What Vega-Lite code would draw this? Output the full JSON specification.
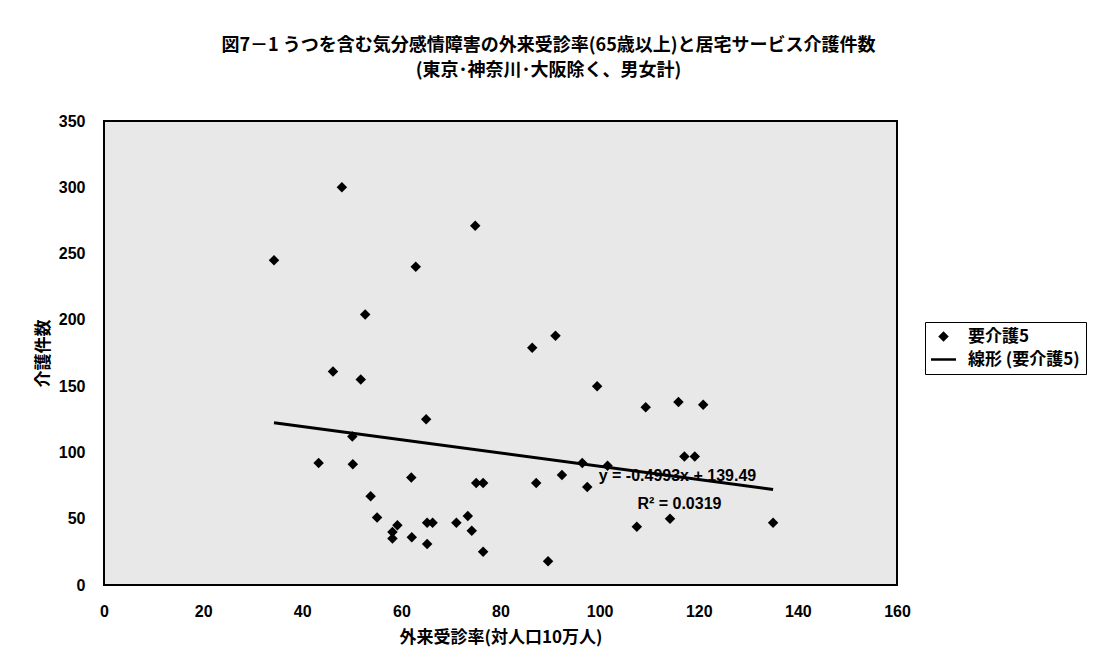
{
  "$schema": "https://vega.github.io/schema/vega-lite/v6.json",
  "width": 793,
  "height": 464,
  "autosize": {"type": "none"},
  "padding": {"left": 104, "top": 121, "right": 196, "bottom": 75},
  "background": "white",
  "config": {
    "font": "Liberation Sans, Noto Sans CJK JP",
    "view": {"stroke": "black", "strokeWidth": 2, "fill": "#e8e8e8"},
    "axis": {
      "domain": false,
      "ticks": false,
      "grid": false,
      "labelFont": "Liberation Sans",
      "labelFontSize": 16,
      "labelFontWeight": "bold",
      "labelColor": "black",
      "labelFlush": false,
      "labelOverlap": false,
      "titleFont": "Noto Sans CJK JP",
      "titleFontSize": 17,
      "titleFontWeight": "bold",
      "titleColor": "black"
    },
    "legend": {
      "orient": "none",
      "legendX": 821,
      "legendY": 201,
      "strokeColor": "black",
      "strokeWidth": 1,
      "fillColor": "white",
      "padding": 6,
      "rowPadding": 2,
      "labelFont": "Noto Sans CJK JP",
      "labelFontSize": 17,
      "labelFontWeight": "bold",
      "labelColor": "black",
      "labelOffset": 12,
      "labelLimit": 300,
      "symbolFillColor": "black",
      "symbolStrokeWidth": 0
    }
  },
  "title": {
    "text": [
      "図7－1 うつを含む気分感情障害の外来受診率(65歳以上)と居宅サービス介護件数",
      "(東京･神奈川･大阪除く、男女計)"
    ],
    "font": "Noto Sans CJK JP",
    "fontSize": 18,
    "fontWeight": "bold",
    "color": "black",
    "anchor": "middle",
    "frame": "group",
    "dx": 48,
    "offset": 33,
    "lineHeight": 25
  },
  "datasets": {
    "prefectures": [
      {"rate": 34.3, "count": 245, "series": "要介護5"},
      {"rate": 43.3, "count": 92, "series": "要介護5"},
      {"rate": 46.2, "count": 161, "series": "要介護5"},
      {"rate": 48.0, "count": 300, "series": "要介護5"},
      {"rate": 50.1, "count": 112, "series": "要介護5"},
      {"rate": 50.2, "count": 91, "series": "要介護5"},
      {"rate": 51.8, "count": 155, "series": "要介護5"},
      {"rate": 52.7, "count": 204, "series": "要介護5"},
      {"rate": 53.8, "count": 67, "series": "要介護5"},
      {"rate": 55.1, "count": 51, "series": "要介護5"},
      {"rate": 58.2, "count": 40, "series": "要介護5"},
      {"rate": 58.2, "count": 35, "series": "要介護5"},
      {"rate": 59.2, "count": 45, "series": "要介護5"},
      {"rate": 62.0, "count": 81, "series": "要介護5"},
      {"rate": 62.1, "count": 36, "series": "要介護5"},
      {"rate": 62.9, "count": 240, "series": "要介護5"},
      {"rate": 65.0, "count": 125, "series": "要介護5"},
      {"rate": 65.2, "count": 47, "series": "要介護5"},
      {"rate": 66.3, "count": 47, "series": "要介護5"},
      {"rate": 65.2, "count": 31, "series": "要介護5"},
      {"rate": 71.1, "count": 47, "series": "要介護5"},
      {"rate": 73.4, "count": 52, "series": "要介護5"},
      {"rate": 74.2, "count": 41, "series": "要介護5"},
      {"rate": 74.9, "count": 271, "series": "要介護5"},
      {"rate": 75.1, "count": 77, "series": "要介護5"},
      {"rate": 76.5, "count": 77, "series": "要介護5"},
      {"rate": 76.5, "count": 25, "series": "要介護5"},
      {"rate": 86.4, "count": 179, "series": "要介護5"},
      {"rate": 87.2, "count": 77, "series": "要介護5"},
      {"rate": 89.6, "count": 18, "series": "要介護5"},
      {"rate": 91.1, "count": 188, "series": "要介護5"},
      {"rate": 92.4, "count": 83, "series": "要介護5"},
      {"rate": 96.5, "count": 92, "series": "要介護5"},
      {"rate": 97.5, "count": 74, "series": "要介護5"},
      {"rate": 99.5, "count": 150, "series": "要介護5"},
      {"rate": 101.6, "count": 90, "series": "要介護5"},
      {"rate": 107.5, "count": 44, "series": "要介護5"},
      {"rate": 109.3, "count": 134, "series": "要介護5"},
      {"rate": 114.2, "count": 50, "series": "要介護5"},
      {"rate": 115.9, "count": 138, "series": "要介護5"},
      {"rate": 117.1, "count": 97, "series": "要介護5"},
      {"rate": 119.2, "count": 97, "series": "要介護5"},
      {"rate": 120.9, "count": 136, "series": "要介護5"},
      {"rate": 135.0, "count": 47, "series": "要介護5"}
    ],
    "trend": [
      {"rate": 34.3, "count": 122.36},
      {"rate": 135.0, "count": 72.08}
    ],
    "notes": [
      {"note": "y = -0.4993x + 139.49", "nx": 115.7, "ny": 82},
      {"note": "R² = 0.0319", "nx": 116.1, "ny": 61}
    ]
  },
  "layer": [
    {
      "data": {"name": "trend"},
      "mark": {"type": "line", "color": "black", "strokeWidth": 3},
      "encoding": {
        "x": {
          "field": "rate",
          "type": "quantitative",
          "scale": {"domain": [0, 160], "nice": false},
          "axis": {
            "values": [0, 20, 40, 60, 80, 100, 120, 140, 160],
            "labelPadding": 18,
            "title": "外来受診率(対人口10万人)",
            "titlePadding": 10
          }
        },
        "y": {
          "field": "count",
          "type": "quantitative",
          "scale": {"domain": [0, 350], "nice": false},
          "axis": {
            "values": [0, 50, 100, 150, 200, 250, 300, 350],
            "labelPadding": 19,
            "title": "介護件数",
            "titlePadding": 6
          }
        }
      }
    },
    {
      "data": {"name": "prefectures"},
      "mark": {"type": "point", "filled": true, "color": "black", "opacity": 1},
      "encoding": {
        "x": {"field": "rate", "type": "quantitative"},
        "y": {"field": "count", "type": "quantitative"},
        "shape": {
          "field": "series",
          "type": "nominal",
          "title": null,
          "scale": {
            "domain": ["要介護5", "線形 (要介護5)"],
            "range": ["diamond", "M-1,-0.1H1V0.1H-1Z"]
          }
        },
        "size": {
          "field": "series",
          "type": "nominal",
          "title": null,
          "scale": {
            "domain": ["要介護5", "線形 (要介護5)"],
            "range": [110, 625]
          }
        }
      }
    },
    {
      "data": {"name": "notes"},
      "mark": {
        "type": "text",
        "font": "Liberation Sans",
        "fontSize": 16,
        "fontWeight": "bold",
        "color": "black",
        "align": "center",
        "baseline": "middle"
      },
      "encoding": {
        "x": {"field": "nx", "type": "quantitative"},
        "y": {"field": "ny", "type": "quantitative"},
        "text": {"field": "note"}
      }
    }
  ]
}
